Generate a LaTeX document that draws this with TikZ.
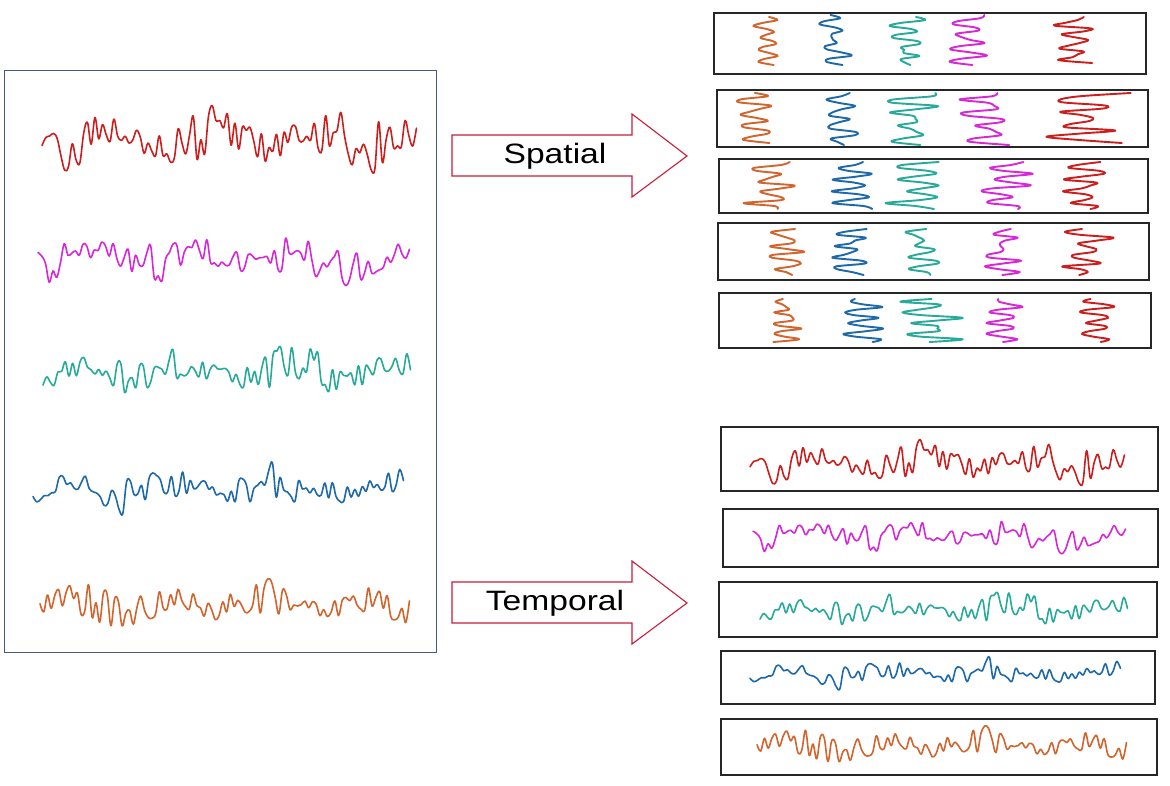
\documentclass[tikz,border=0pt]{standalone}
\usepackage{fontspec}
\setmainfont{Liberation Sans}
\definecolor{arrowred}{RGB}{200,30,60}
\definecolor{lboxc}{RGB}{70,90,130}
\definecolor{wred}{RGB}{205,30,30}
\definecolor{wmag}{RGB}{215,40,215}
\definecolor{wteal}{RGB}{40,170,155}
\definecolor{wblue}{RGB}{30,105,170}
\definecolor{worange}{RGB}{210,100,45}
\newcommand\eegwave[6]{\pgfmathsetseed{#1}%
  \draw[wave,#2] plot[smooth,tension=0.6,samples=100,domain=0:1]
   ({#3+#5*\x},{#4+#6*(0.85*rand*(0.72+0.28*sin(\x*900+5*#1))+0.25*sin(\x*1300+3*#1))});}
\newcommand\squigline[6]{\pgfmathsetseed{#1}%
  \draw[squig,#2] plot[smooth,tension=0.55,samples=17,domain=0:1]
   ({#3+#6*(0.6*sin(\x*1440+7*#1)+0.45*rand)},{#4+#5*\x});}
\begin{document}
\begin{tikzpicture}[x=1pt,y=-1pt,
  wave/.style={line width=1.6pt,line join=round,line cap=round},
  squig/.style={line width=1.9pt,line join=round,line cap=round},
  sbox/.style={draw=black!85,line width=1.3pt},
  arrowshape/.style={draw=arrowred,line width=1.1pt,fill=white},
  lbl/.style={font=\fontsize{28}{30}\selectfont,xscale=1.2,inner sep=0pt}]
\useasboundingbox[fill=white] (0,0) rectangle (1170,786);
% left box
\draw[draw=lboxc,line width=1pt] (4,71) rectangle (436,652);
\eegwave{11}{wred}{42}{140}{375}{34}
\eegwave{23}{wmag}{38}{258}{372}{28}
\eegwave{37}{wteal}{43}{372}{368}{26}
\eegwave{41}{wblue}{33}{488}{371}{24}
\eegwave{53}{worange}{40}{604}{370}{25}
% arrows
\draw[arrowshape] (452,135) -- (632,135) -- (632,114) -- (687,156) -- (632,197) -- (632,176) -- (452,176) -- cycle;
\node[lbl] (spatial) at (555,156) {Spatial};
\draw[arrowshape] (452,582) -- (632,582) -- (632,561) -- (687,603) -- (632,644) -- (632,623) -- (452,623) -- cycle;
\node[lbl] (temporal) at (555,603) {Temporal};
% spatial boxes
\draw[sbox] (714,13) rectangle (1146,74);
\squigline{1}{worange}{767}{17}{48}{15}
\squigline{2}{wblue}{834}{15}{50}{19}
\squigline{3}{wteal}{908}{17}{48}{20}
\squigline{4}{wmag}{970}{15}{50}{22}
\squigline{5}{wred}{1076}{17}{46}{24}
\draw[sbox] (717,90) rectangle (1148,147);
\squigline{6}{worange}{755}{93}{50}{22}
\squigline{7}{wblue}{837}{93}{52}{23}
\squigline{8}{wteal}{912}{93}{52}{30}
\squigline{9}{wmag}{984}{93}{52}{31}
\squigline{10}{wred}{1088}{93}{50}{44}
\draw[sbox] (719,159) rectangle (1148,213);
\squigline{12}{worange}{769}{162}{47}{26}
\squigline{13}{wblue}{854}{162}{47}{22}
\squigline{14}{wteal}{913}{162}{47}{28}
\squigline{15}{wmag}{1008}{162}{47}{30}
\squigline{16}{wred}{1085}{162}{47}{23}
\draw[sbox] (718,223) rectangle (1149,280);
\squigline{17}{worange}{789}{229}{46}{24}
\squigline{18}{wblue}{850}{229}{46}{23}
\squigline{19}{wteal}{920}{229}{46}{22}
\squigline{20}{wmag}{1002}{229}{46}{21}
\squigline{21}{wred}{1083}{229}{46}{33}
\draw[sbox] (719,293) rectangle (1151,348);
\squigline{24}{worange}{781}{299}{43}{26}
\squigline{25}{wblue}{863}{299}{43}{21}
\squigline{26}{wteal}{930}{299}{43}{32}
\squigline{27}{wmag}{1006}{299}{43}{19}
\squigline{28}{wred}{1096}{299}{43}{18}
% temporal boxes
\draw[sbox] (721,427) rectangle (1158,491);
\eegwave{11}{wred}{750}{463}{375}{23}
\draw[sbox] (723,509) rectangle (1158,567);
\eegwave{23}{wmag}{753}{535}{373}{19}
\draw[sbox] (719,582) rectangle (1157,637);
\eegwave{37}{wteal}{760}{610}{368}{18}
\draw[sbox] (721,651) rectangle (1155,704);
\eegwave{41}{wblue}{750}{673}{371}{15}
\draw[sbox] (721,719) rectangle (1157,775);
\eegwave{53}{worange}{757}{745}{370}{19}
\end{tikzpicture}
\end{document}
